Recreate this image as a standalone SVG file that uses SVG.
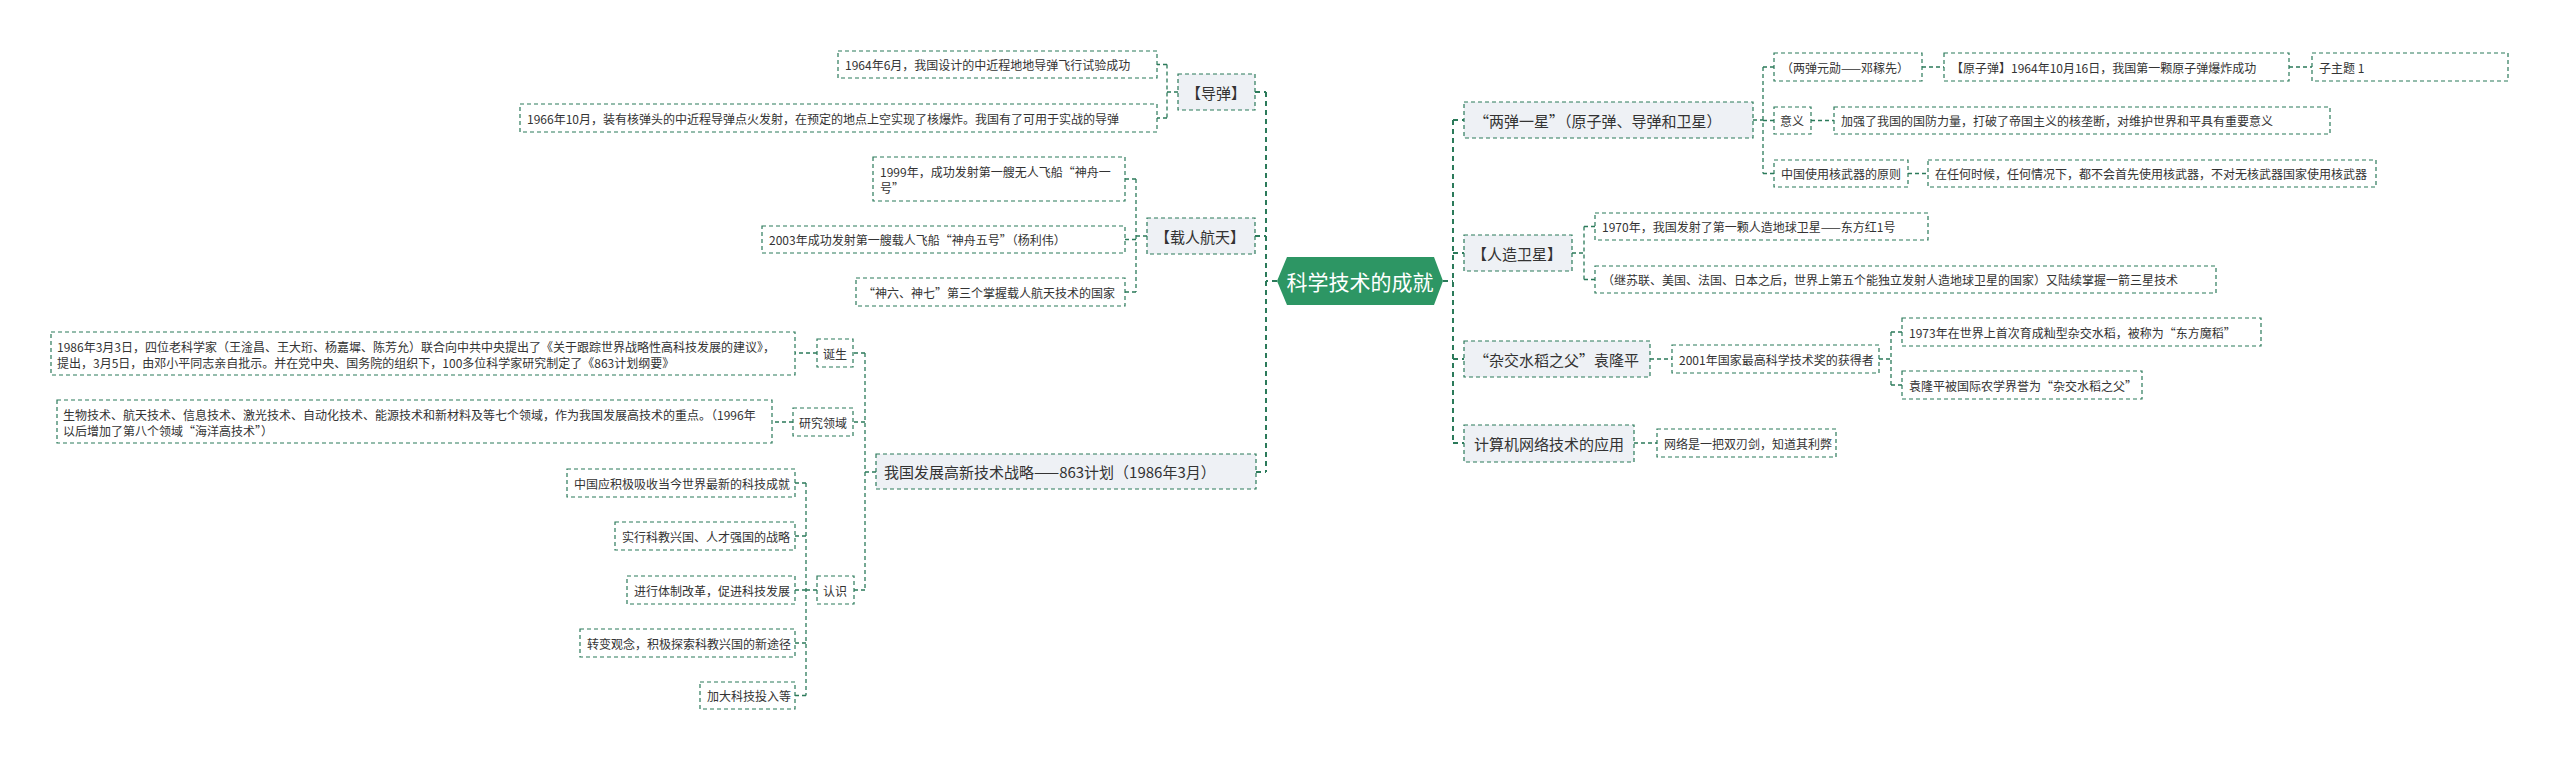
<svg xmlns="http://www.w3.org/2000/svg" width="2560" height="761" viewBox="0 0 2560 761">
<style>
.bg{fill:#ffffff}
.box{fill:#ffffff;stroke:#2b7a5a;stroke-width:1.2;stroke-dasharray:4 3}
.br{fill:#eef1f5;stroke:#2b7a5a;stroke-width:1.2;stroke-dasharray:4 3}
.t{font-family:'Noto Sans CJK SC','Noto Sans',sans-serif;font-size:12px;fill:#333333;dominant-baseline:central}
.tb{font-family:'Noto Sans CJK SC','Noto Sans',sans-serif;font-size:15px;fill:#333333;dominant-baseline:central}
.tc{font-family:'Noto Sans CJK SC','Noto Sans',sans-serif;font-size:21px;fill:#ffffff;dominant-baseline:central;text-anchor:middle}
.c1{fill:none;stroke:#2b7a5a;stroke-width:2;stroke-dasharray:5 4}
.c2{fill:none;stroke:#2b7a5a;stroke-width:1.3;stroke-dasharray:4 3}
</style>
<rect class="bg" x="0" y="0" width="2560" height="761"/>
<g id="connectors">
<path class="c1" d="M1277,281 H1266 M1266,92 V472 M1255,92 H1266 M1255,236 H1266 M1256,472 H1266"/>
<path class="c1" d="M1443,281 H1453 M1453,120 V443 M1453,120 H1464 M1453,253 H1464 M1453,359 H1464 M1453,443 H1464"/>
<path class="c2" d="M1178,92 H1167 M1167,64.5 V118 M1167,64.5 H1157 M1167,118 H1157"/>
<path class="c2" d="M1147,236 H1136 M1136,179 V292 M1136,179 H1125 M1136,239.5 H1125 M1136,292 H1125"/>
<path class="c2" d="M876,472 H865 M865,353 V590 M865,353 H853 M865,422 H853 M865,590 H854"/>
<path class="c2" d="M817,353 H795 M793,422 H772"/>
<path class="c2" d="M817,590 H806 M806,483 V695.5 M806,483 H795 M806,536 H795 M806,590 H795 M806,643 H795 M806,695.5 H795"/>
<path class="c2" d="M1753,120 H1763 M1763,67 V173.5 M1763,67 H1774 M1763,120.5 H1774 M1763,173.5 H1774"/>
<path class="c2" d="M1922,67 H1944 M2289,67 H2312 M1811,120.5 H1834 M1908,173.5 H1928"/>
<path class="c2" d="M1572,253 H1584 M1584,226.5 V279.5 M1584,226.5 H1595 M1584,279.5 H1595"/>
<path class="c2" d="M1650,359 H1672 M1879,359 H1891 M1891,332 V385 M1891,332 H1902 M1891,385 H1902"/>
<path class="c2" d="M1634,443 H1657"/>
</g>
<g id="root">
<polygon points="1277,281 1287,257 1434,257 1443,281 1434,305 1287,305" fill="#2d9664"/>
<text class="tc" x="1360" y="281">科学技术的成就</text>
</g>
<g id="daodan">
<rect class="br" x="1178" y="74" width="77" height="36"/>
<text class="tb" x="1186" y="92">【导弹】</text>
</g>
<g id="daodan-1">
<rect class="box" x="838" y="51" width="319" height="27"/>
<text class="t" x="845" y="64.5">1964年6月，我国设计的中近程地地导弹飞行试验成功</text>
</g>
<g id="daodan-2">
<rect class="box" x="520" y="104" width="637" height="28"/>
<text class="t" x="527" y="118">1966年10月，装有核弹头的中近程导弹点火发射，在预定的地点上空实现了核爆炸。我国有了可用于实战的导弹</text>
</g>
<g id="zairen">
<rect class="br" x="1147" y="218" width="108" height="36"/>
<text class="tb" x="1155" y="236">【载人航天】</text>
</g>
<g id="zairen-1">
<rect class="box" x="873" y="157" width="252" height="44"/>
<text class="t" x="880" y="171">1999年，成功发射第一艘无人飞船“神舟一</text>
<text class="t" x="880" y="187">号”</text>
</g>
<g id="zairen-2">
<rect class="box" x="762" y="226" width="363" height="27"/>
<text class="t" x="769" y="239.5">2003年成功发射第一艘载人飞船“神舟五号”（杨利伟）</text>
</g>
<g id="zairen-3">
<rect class="box" x="856" y="278" width="269" height="28"/>
<text class="t" x="863" y="292">“神六、神七”第三个掌握载人航天技术的国家</text>
</g>
<g id="plan863">
<rect class="br" x="876" y="454" width="380" height="35"/>
<text class="tb" x="884" y="471.5">我国发展高新技术战略——863计划（1986年3月）</text>
</g>
<g id="dansheng">
<rect class="box" x="817" y="339" width="36" height="28"/>
<text class="t" x="823" y="353">诞生</text>
</g>
<g id="dansheng-1">
<rect class="box" x="51" y="332" width="744" height="43"/>
<text class="t" x="57" y="346">1986年3月3日，四位老科学家（王淦昌、王大珩、杨嘉墀、陈芳允）联合向中共中央提出了《关于跟踪世界战略性高科技发展的建议》，</text>
<text class="t" x="57" y="362">提出，3月5日，由邓小平同志亲自批示。并在党中央、国务院的组织下，100多位科学家研究制定了《863计划纲要》</text>
</g>
<g id="lingyu">
<rect class="box" x="793" y="408" width="60" height="28"/>
<text class="t" x="799" y="422">研究领域</text>
</g>
<g id="lingyu-1">
<rect class="box" x="57" y="400" width="715" height="43"/>
<text class="t" x="63" y="414">生物技术、航天技术、信息技术、激光技术、自动化技术、能源技术和新材料及等七个领域，作为我国发展高技术的重点。（1996年</text>
<text class="t" x="63" y="430">以后增加了第八个领域“海洋高技术”）</text>
</g>
<g id="renshi">
<rect class="box" x="817" y="576" width="37" height="28"/>
<text class="t" x="823" y="590">认识</text>
</g>
<g id="renshi-1">
<rect class="box" x="567" y="469" width="228" height="28"/>
<text class="t" x="574" y="483">中国应积极吸收当今世界最新的科技成就</text>
</g>
<g id="renshi-2">
<rect class="box" x="615" y="522" width="180" height="28"/>
<text class="t" x="622" y="536">实行科教兴国、人才强国的战略</text>
</g>
<g id="renshi-3">
<rect class="box" x="627" y="576" width="168" height="28"/>
<text class="t" x="634" y="590">进行体制改革，促进科技发展</text>
</g>
<g id="renshi-4">
<rect class="box" x="580" y="629" width="215" height="28"/>
<text class="t" x="587" y="643">转变观念，积极探索科教兴国的新途径</text>
</g>
<g id="renshi-5">
<rect class="box" x="700" y="682" width="95" height="27"/>
<text class="t" x="707" y="695.5">加大科技投入等</text>
</g>
<g id="liangdan">
<rect class="br" x="1464" y="102" width="289" height="36"/>
<text class="tb" x="1474" y="120">“两弹一星”（原子弹、导弹和卫星）</text>
</g>
<g id="yuanxun">
<rect class="box" x="1774" y="53" width="148" height="28"/>
<text class="t" x="1781" y="67">（两弹元勋——邓稼先）</text>
</g>
<g id="yuanzidan">
<rect class="box" x="1944" y="53" width="345" height="28"/>
<text class="t" x="1951" y="67">【原子弹】1964年10月16日，我国第一颗原子弹爆炸成功</text>
</g>
<g id="zizhuti">
<rect class="box" x="2312" y="53" width="196" height="28"/>
<text class="t" x="2319" y="67">子主题 1</text>
</g>
<g id="yiyi">
<rect class="box" x="1774" y="107" width="37" height="27"/>
<text class="t" x="1780" y="120.5">意义</text>
</g>
<g id="yiyi-1">
<rect class="box" x="1834" y="107" width="496" height="27"/>
<text class="t" x="1841" y="120.5">加强了我国的国防力量，打破了帝国主义的核垄断，对维护世界和平具有重要意义</text>
</g>
<g id="yuanze">
<rect class="box" x="1774" y="160" width="134" height="27"/>
<text class="t" x="1781" y="173.5">中国使用核武器的原则</text>
</g>
<g id="yuanze-1">
<rect class="box" x="1928" y="160" width="448" height="27"/>
<text class="t" x="1935" y="173.5">在任何时候，任何情况下，都不会首先使用核武器，不对无核武器国家使用核武器</text>
</g>
<g id="weixing">
<rect class="br" x="1464" y="235" width="108" height="36"/>
<text class="tb" x="1472" y="253">【人造卫星】</text>
</g>
<g id="weixing-1">
<rect class="box" x="1595" y="213" width="333" height="27"/>
<text class="t" x="1602" y="226.5">1970年，我国发射了第一颗人造地球卫星——东方红1号</text>
</g>
<g id="weixing-2">
<rect class="box" x="1595" y="266" width="621" height="27"/>
<text class="t" x="1602" y="279.5">（继苏联、美国、法国、日本之后，世界上第五个能独立发射人造地球卫星的国家）又陆续掌握一箭三星技术</text>
</g>
<g id="yuanlongping">
<rect class="br" x="1464" y="341" width="186" height="36"/>
<text class="tb" x="1474" y="359">“杂交水稻之父”袁隆平</text>
</g>
<g id="jiangxiang">
<rect class="box" x="1672" y="345" width="207" height="28"/>
<text class="t" x="1679" y="359">2001年国家最高科学技术奖的获得者</text>
</g>
<g id="jiangxiang-1">
<rect class="box" x="1902" y="318" width="359" height="28"/>
<text class="t" x="1909" y="332">1973年在世界上首次育成籼型杂交水稻，被称为“东方魔稻”</text>
</g>
<g id="jiangxiang-2">
<rect class="box" x="1902" y="371" width="240" height="28"/>
<text class="t" x="1909" y="385">袁隆平被国际农学界誉为“杂交水稻之父”</text>
</g>
<g id="wangluo">
<rect class="br" x="1464" y="425" width="170" height="37"/>
<text class="tb" x="1474" y="443.5">计算机网络技术的应用</text>
</g>
<g id="wangluo-1">
<rect class="box" x="1657" y="429" width="179" height="28"/>
<text class="t" x="1664" y="443">网络是一把双刃剑，知道其利弊</text>
</g>
</svg>
